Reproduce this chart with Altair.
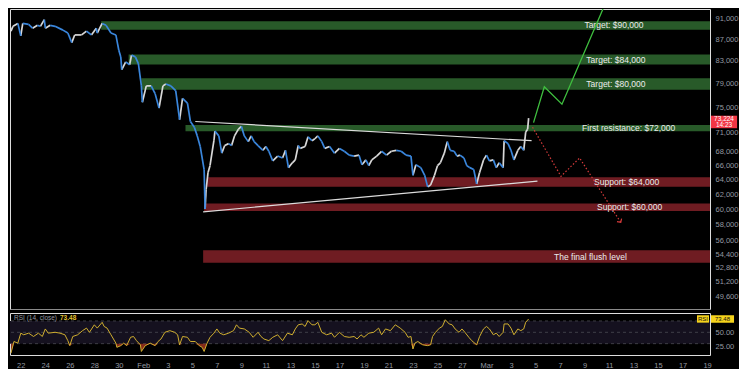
import altair as alt
import pandas as pd

# ---------------- data ----------------
# time: days since 22 Jan 2026 00:00
price_day = [
    -0.80, -0.64, -0.24, 0.00, 0.16, 0.64, 0.96, 1.36, 1.60, 1.92,
    2.00, 2.40, 2.80, 3.44, 3.84, 4.16, 4.40, 4.96, 5.36, 5.76,
    6.16, 6.24, 6.64, 6.96, 7.36, 7.76, 8.00, 8.16, 8.24, 8.56,
    8.88, 9.04, 9.36, 9.60, 9.84, 9.92, 10.24, 10.64, 10.96, 11.28,
    11.60, 11.84, 12.24, 12.64, 12.96, 13.20, 13.60, 13.84, 14.16, 14.40,
    14.64, 14.96, 15.04, 15.12, 15.28, 15.44, 15.76, 15.84, 16.16, 16.40,
    16.64, 16.96, 17.20, 17.44, 17.76, 18.00, 18.24, 18.56, 18.80, 19.04,
    19.36, 19.76, 20.00, 20.24, 20.56, 20.96, 21.36, 21.60, 21.84, 22.16,
    22.40, 22.64, 22.80, 23.20, 23.44, 23.76, 24.00, 24.24, 24.56, 24.80,
    25.20, 25.60, 26.00, 26.40, 26.80, 27.20, 27.60, 27.84, 28.16, 28.40,
    28.64, 29.04, 29.44, 29.84, 30.24, 30.64, 31.04, 31.44, 31.84, 32.00,
    32.24, 32.64, 32.96, 33.20, 33.44, 33.76, 34.00, 34.24, 34.56, 34.80,
    35.04, 35.36, 35.60, 35.84, 36.16, 36.40, 36.64, 36.96, 37.20, 37.44,
    37.76, 38.00, 38.24, 38.56, 38.80, 39.04, 39.36, 39.44, 39.76, 40.00,
    40.24, 40.56, 40.80, 41.04, 41.20, 41.36, 41.44,
]
price_close = [
    88550, 89480, 90050, 87620, 90050, 89860, 89110, 89670, 89480, 90810,
    89110, 89670, 89480, 88740, 88180, 86340, 87810, 87810, 88550, 87810,
    89110, 88180, 90050, 89670, 88180, 87810, 84905, 83670, 81410, 82790,
    82270, 84020, 83670, 82440, 78560, 75800, 78560, 78560, 77240, 74850,
    78560, 78880, 78560, 77740, 72990, 76440, 75640, 72680, 71770, 70430,
    68820, 65440, 60040, 62610, 65030, 65990, 69690, 71170, 70430, 67820,
    68960, 69250, 68960, 70430, 71470, 71920, 70430, 69550, 70430, 69550,
    68960, 68240, 68820, 68100, 66690, 67390, 67110, 68240, 65710, 66410,
    66830, 68960, 68530, 68820, 70280, 69690, 69990, 70430, 69550, 68530,
    68820, 67820, 68530, 68100, 67530, 67390, 67530, 66130, 66830, 65990,
    66830, 67390, 68100, 67530, 68100, 68240, 68100, 67530, 67390, 64620,
    66130, 65710, 64620, 63010, 63270, 64620, 65990, 66410, 67820, 69550,
    68240, 68100, 67390, 67530, 67110, 65990, 65710, 65440, 63410, 65030,
    66830, 67530, 66690, 66830, 65710, 66410, 65710, 69690, 69250, 68240,
    66830, 68240, 68820, 68240, 71020, 71470, 73224,
]

rsi_day = [
    -0.80, -0.56, -0.24, 0.00, 0.24, 0.64, 1.04, 1.44, 1.76, 2.00,
    2.24, 2.80, 3.20, 3.60, 3.84, 4.00, 4.24, 4.64, 5.04, 5.36,
    5.60, 6.00, 6.24, 6.64, 6.80, 7.04, 7.36, 7.76, 7.84, 8.16,
    8.40, 8.64, 8.96, 9.20, 9.44, 9.76, 9.84, 10.16, 10.56, 10.96,
    11.20, 11.44, 11.76, 12.16, 12.56, 12.80, 12.96, 13.20, 13.60, 13.84,
    14.24, 14.56, 14.80, 14.96, 15.20, 15.44, 15.76, 16.00, 16.24, 16.56,
    16.96, 17.36, 17.60, 17.84, 18.24, 18.64, 18.96, 19.36, 19.60, 19.84,
    20.24, 20.56, 20.96, 21.36, 21.76, 22.16, 22.40, 22.64, 22.96, 23.20,
    23.44, 23.76, 24.00, 24.24, 24.56, 24.96, 25.36, 25.60, 26.00, 26.40,
    26.80, 27.20, 27.44, 27.76, 28.00, 28.40, 28.80, 29.20, 29.44, 29.76,
    30.16, 30.56, 30.96, 31.36, 31.60, 31.84, 32.00, 32.16, 32.40, 32.80,
    33.20, 33.44, 33.60, 33.84, 34.16, 34.40, 34.64, 34.96, 35.20, 35.44,
    35.76, 36.00, 36.24, 36.56, 36.80, 37.20, 37.44, 37.76, 38.00, 38.24,
    38.56, 38.80, 39.04, 39.36, 39.44, 39.76, 40.00, 40.24, 40.56, 40.80,
    41.04, 41.20, 41.44,
]
rsi_value = [
    13.2, 33.8, 30.9, 48.5, 45.6, 48.5, 42.6, 48.5, 42.6, 55.9,
    48.5, 50.0, 48.5, 45.6, 35.3, 26.5, 42.6, 45.6, 52.9, 57.4,
    50.0, 63.2, 57.4, 67.6, 60.3, 57.4, 45.6, 30.9, 23.5, 26.5,
    30.9, 26.5, 41.2, 42.6, 35.3, 27.9, 16.2, 26.5, 30.9, 26.5,
    33.8, 38.2, 50.0, 52.9, 50.0, 45.6, 27.9, 42.6, 41.2, 33.8,
    33.8, 26.5, 23.5, 16.2, 30.9, 41.2, 48.5, 55.9, 48.5, 45.6,
    48.5, 52.9, 63.2, 57.4, 55.9, 50.0, 41.2, 50.0, 42.6, 38.2,
    35.3, 41.2, 45.6, 35.3, 48.5, 45.6, 55.9, 63.2, 64.7, 60.3,
    70.6, 63.2, 63.2, 67.6, 50.0, 45.6, 48.5, 41.2, 50.0, 42.6,
    41.2, 42.6, 38.2, 45.6, 41.2, 48.5, 50.0, 57.4, 45.6, 55.9,
    52.9, 63.2, 57.4, 50.0, 41.2, 42.6, 20.6, 30.9, 33.8, 27.9,
    26.5, 27.9, 42.6, 50.0, 57.4, 60.3, 72.1, 64.7, 63.2, 55.9,
    50.0, 55.9, 50.0, 41.2, 35.3, 27.9, 42.6, 55.9, 60.3, 55.9,
    45.6, 48.5, 42.6, 50.0, 64.7, 64.7, 57.4, 45.6, 55.9, 52.9,
    55.9, 67.6, 73.48,
]

zone_label = ["Target: $90,000", "Target: $84,000", "Target: $80,000",
              "First resistance: $72,000", "Support: $64,000",
              "Support: $60,000", "The final flush level"]
zone_low = [88800, 82320, 77900, 71130, 63010, 59780, 53370]
zone_high = [90490, 84130, 79890, 72120, 64345, 60760, 54850]
zone_start_day = [6.56, 8.80, 9.84, 13.44, 15.20, 14.96, 14.88]
zone_side = ["target", "target", "target", "target", "support", "support", "support"]

upper_trend_day = [14.24, 41.68]
upper_trend_price = [72680, 69690]
lower_trend_day = [14.88, 42.16]
lower_trend_price = [59660, 63810]

bull_day = [41.84, 42.72, 44.16, 47.60]
bull_price = [72500, 78400, 75480, 93480]
bear_day = [41.76, 44.08, 45.60, 48.96]
bear_price = [71770, 64480, 67110, 58300]

price_ticks = [91000, 87000, 83000, 79000, 75000, 71000, 68000, 66000, 64000,
               62000, 60000, 58000, 56000, 54400, 52800, 51200, 49600]
date_tick_day = list(range(0, 57, 2))
date_tick_labels = ["22", "24", "26", "28", "30", "Feb", "3", "5", "7", "9", "11",
                    "13", "15", "17", "19", "21", "23", "25", "27", "Mar", "3", "5",
                    "7", "9", "11", "13", "15", "17", "19"]
rsi_ticks = [25, 50]
rsi_levels = [30, 50, 70]
last_price = 73224
last_time = "14:23"
last_rsi = 73.48

# ---------------- layout / style constants ----------------
X_MIN, X_MAX = -0.88, 56.24
P_MIN, P_MAX = 48250, 92930
R_MIN, R_MAX = 10, 84
W, H1, H2 = 700, 300, 42
FONT = "Liberation Sans"
AX_COL = "#9598a1"
ZONE_LABEL_DAY = [48.4, 48.56, 48.56, 49.6, 49.44, 49.68, 46.48]
GREEN_ZONE, RED_ZONE = "#285a29", "#6f1c22"
UP_COL, DOWN_COL = "#d8d8d8", "#3a86dc"

xs = alt.Scale(domain=[X_MIN, X_MAX], zero=False, nice=False)
ps = alt.Scale(type="log", domain=[P_MIN, P_MAX], nice=False)
rs = alt.Scale(domain=[R_MIN, R_MAX], zero=False, nice=False)

x_axis_price = alt.Axis(labels=False, ticks=False, grid=False, title=None,
                        domain=True, domainColor="#8a8a8a", domainWidth=1)
y_axis_price = alt.Axis(orient="right", values=price_ticks, format=",.0f",
                        labelFontSize=7.5, labelColor=AX_COL, labelFont=FONT,
                        ticks=False, domain=False, grid=False, title=None,
                        labelPadding=5)
labels_js = "[" + ",".join("'%s'" % s for s in date_tick_labels) + "]"
x_axis_rsi = alt.Axis(values=date_tick_day, labelExpr=labels_js + "[round(datum.value / 2)]",
                      labelFontSize=7.5, labelColor=AX_COL, labelFont=FONT,
                      ticks=False, domain=False, grid=False, title=None, labelPadding=6)
y_axis_rsi = alt.Axis(orient="right", values=rsi_ticks, format=".2f",
                      labelFontSize=7.5, labelColor=AX_COL, labelFont=FONT,
                      ticks=False, domain=False, grid=False, title=None, labelPadding=5)


def X(field):
    return alt.X(field, type="quantitative", scale=xs, axis=x_axis_price)


def P(field):
    return alt.Y(field, type="quantitative", scale=ps, axis=y_axis_price)


# ---------------- tables ----------------
zones = pd.DataFrame({"label": zone_label, "low": zone_low, "high": zone_high,
                      "start": zone_start_day, "side": zone_side})
zones["end"] = X_MAX
zones["mid"] = (zones["low"] * zones["high"]) ** 0.5
zones["label_day"] = ZONE_LABEL_DAY

px = pd.DataFrame({"day": price_day, "close": price_close})
seg = px.copy()
seg["day2"] = seg["day"].shift(-1)
seg["close2"] = seg["close"].shift(-1)
seg = seg.dropna()
seg["dir"] = ["up" if b >= a else "down" for a, b in zip(seg["close"], seg["close2"])]

trend = pd.DataFrame({
    "name": ["upper"] * 2 + ["lower"] * 2,
    "day": upper_trend_day + lower_trend_day,
    "price": upper_trend_price + lower_trend_price,
})
bull = pd.DataFrame({"day": bull_day, "price": bull_price})
bear = pd.DataFrame({"day": bear_day, "price": bear_price})

rsi = pd.DataFrame({"day": rsi_day, "rsi": rsi_value})
rsi["low"] = rsi["rsi"].clip(upper=30)
rsi["base"] = 30

# ---------------- price panel ----------------
zone_green = alt.Chart(zones[zones.side == "target"]).mark_rect(color=GREEN_ZONE).encode(
    x=X("start"), x2="end", y=P("low"), y2="high")
zone_red = alt.Chart(zones[zones.side == "support"]).mark_rect(color=RED_ZONE).encode(
    x=X("start"), x2="end", y=P("low"), y2="high")
zone_text = alt.Chart(zones).mark_text(font=FONT, fontSize=8.5, color="#ececec",
                                       align="center", baseline="middle").encode(
    x=X("label_day"), y=P("mid"), text="label:N")

trend_lines = alt.Chart(trend).mark_line(color="#dcdcdc", strokeWidth=1.2).encode(
    x=X("day"), y=P("price"), detail="name:N")

candles_up = alt.Chart(seg[seg.dir == "up"]).mark_rule(strokeWidth=1.7, color=UP_COL).encode(
    x=X("day"), x2="day2", y=P("close"), y2="close2")
candles_down = alt.Chart(seg[seg.dir == "down"]).mark_rule(strokeWidth=1.7, color=DOWN_COL).encode(
    x=X("day"), x2="day2", y=P("close"), y2="close2")

bull_line = alt.Chart(bull).mark_line(color="#3fbf3f", strokeWidth=1.3, clip=True).encode(
    x=X("day"), y=P("price"), order="day:Q")
bear_line = alt.Chart(bear).mark_line(color="#d43a3a", strokeWidth=1.2,
                                      strokeDash=[1.5, 2]).encode(
    x=X("day"), y=P("price"), order="day:Q")
bear_head = alt.Chart(bear.tail(1)).mark_point(
    shape="M-1,-1L0,0L1,-1", filled=False, color="#d43a3a", strokeWidth=1.2,
    size=30, angle=327, opacity=1).encode(x=X("day"), y=P("price"))

last_df = pd.DataFrame({"x0": [56.32], "x1": [58.45], "lo": [71620], "hi": [73605],
                        "xm": [57.385], "p1": [73150], "p2": [72060],
                        "t1": [f"{last_price:,}"], "t2": [last_time]})
last_box = alt.Chart(last_df).mark_rect(color="#f23645").encode(
    x=X("x0"), x2="x1", y=P("lo"), y2="hi")
last_t1 = alt.Chart(last_df).mark_text(font=FONT, fontSize=6.5, color="white").encode(
    x=X("xm"), y=P("p1"), text="t1:N")
last_t2 = alt.Chart(last_df).mark_text(font=FONT, fontSize=6.5, color="white").encode(
    x=X("xm"), y=P("p2"), text="t2:N")

price_panel = alt.layer(
    zone_green, zone_red, zone_text, trend_lines, candles_up, candles_down,
    bull_line, bear_line, bear_head, last_box, last_t1, last_t2,
).properties(width=W, height=H1)

# ---------------- RSI panel ----------------
def RX(field):
    return alt.X(field, type="quantitative", scale=xs, axis=x_axis_rsi)


def RY(field):
    return alt.Y(field, type="quantitative", scale=rs, axis=y_axis_rsi)


band_df = pd.DataFrame({"x0": [X_MIN], "x1": [X_MAX], "lo": [30], "hi": [70]})
band = alt.Chart(band_df).mark_rect(color="#15111f").encode(
    x=RX("x0"), x2="x1", y=RY("lo"), y2="hi")
levels = alt.Chart(pd.DataFrame({"level": rsi_levels})).mark_rule(
    color="#4a4a52", strokeDash=[3, 3], strokeWidth=0.8).encode(y=RY("level"))
oversold = alt.Chart(rsi).mark_area(color="#a8361f", opacity=0.8).encode(
    x=RX("day"), y=RY("low"), y2="base")
rsi_line = alt.Chart(rsi).mark_line(color="#cfae2f", strokeWidth=1).encode(
    x=RX("day"), y=RY("rsi"))

legend_df = pd.DataFrame({"x": [-0.55, 3.2], "y": [75, 75],
                          "t": ["RSI (14, close)", f"{last_rsi:.2f}"]})
legend_name = alt.Chart(legend_df.iloc[[0]]).mark_text(
    font=FONT, fontSize=6.5, align="left", baseline="middle", color=AX_COL).encode(
    x=RX("x"), y=RY("y"), text="t:N")
legend_val = alt.Chart(legend_df.iloc[[1]]).mark_text(
    font=FONT, fontSize=6.5, align="left", baseline="middle", color="#e0c030",
    fontWeight="bold").encode(x=RX("x"), y=RY("y"), text="t:N")

rbox_df = pd.DataFrame({"x0": [55.18, 56.32], "x1": [56.16, 58.2],
                        "lo": [67, 67], "hi": [80, 80],
                        "xm": [55.67, 57.26], "y": [last_rsi, last_rsi],
                        "t": ["RSI", f"{last_rsi:.2f}"]})
rbox = alt.Chart(rbox_df).mark_rect(color="#f5d31c").encode(
    x=RX("x0"), x2="x1", y=RY("lo"), y2="hi")
rbox_t = alt.Chart(rbox_df).mark_text(font=FONT, fontSize=6, color="#111111",
                                      baseline="middle").encode(
    x=RX("xm"), y=RY("y"), text="t:N")

rsi_panel = alt.layer(band, levels, oversold, rsi_line, legend_name, legend_val,
                      rbox, rbox_t).properties(width=W, height=H2)

chart = alt.vconcat(price_panel, rsi_panel, spacing=2).properties(
    padding=0, background="#000000"
).configure_view(stroke=None).configure(font=FONT)

chart.save("out.html", embed_options={"renderer": "svg", "actions": False})
